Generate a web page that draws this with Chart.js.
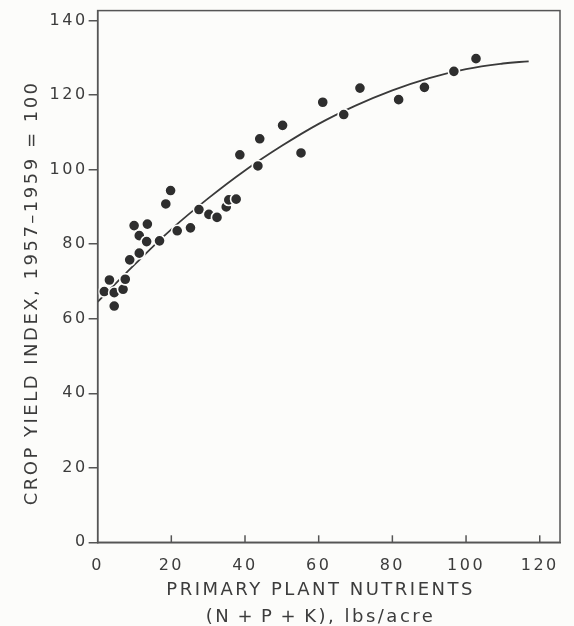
<!DOCTYPE html>
<html>
<head>
<meta charset="utf-8">
<script src="https://cdn.jsdelivr.net/npm/chart.js@4.4.0/dist/chart.umd.min.js"></script>
<style>
  html, body { margin: 0; padding: 0; background: #fcfcfa; }
  #wrap { width: 574px; height: 626px; position: relative; }
</style>
</head>
<body>
<div id="wrap"><canvas id="yieldChart"></canvas></div>
<script>
// observed points
const nutrients = [1.8, 4.5, 6.9, 4.5, 3.2, 7.5, 8.7, 11.3, 9.9, 13.5, 11.3, 13.3,
  16.8, 21.6, 25.2, 18.5, 19.8, 27.5, 30.2, 32.4, 34.9, 35.6, 37.6, 38.6,
  43.5, 44.0, 50.2, 55.2, 61.1, 66.8, 71.2, 81.7, 88.7, 96.7, 102.7];
const yieldIndex = [67.3, 67.0, 67.9, 63.4, 70.4, 70.6, 75.8, 77.6, 85.0, 85.4, 82.3, 80.7,
  80.9, 83.6, 84.4, 90.8, 94.4, 89.3, 88.0, 87.2, 90.0, 91.9, 92.1, 104.0,
  101.0, 108.3, 111.9, 104.5, 118.1, 114.8, 121.9, 118.8, 122.1, 126.4, 129.8];

// fitted curve
const curveNutrients = [0, 10, 20, 30, 40, 50, 60, 70, 80, 90, 100, 110, 117];
const curveYield = [64.5, 74.5, 84, 92.3, 99.8, 106.4, 112.3, 117.2, 121.3, 124.6, 127, 128.5, 129.1];

const xTicks = [0, 20, 40, 60, 80, 100, 120];
const yTicks = [0, 20, 40, 60, 80, 100, 120, 140];

const ink = "#3c3c3c";
const textFont = "'DejaVu Sans', sans-serif";
const nb = "\u00a0";

// spaced lettering like the original drawing
const spacing = {
  id: "spacing",
  beforeUpdate(chart) { chart.ctx.letterSpacing = "2.5px"; },
  beforeLayout(chart) { chart.ctx.letterSpacing = "2.5px"; },
  beforeDraw(chart) { chart.ctx.letterSpacing = "2.5px"; }
};

// box round the plot + inward x tick marks
const frame = {
  id: "frame",
  afterDraw(chart) {
    const { ctx, chartArea: a, scales } = chart;
    ctx.save();
    ctx.strokeStyle = "#555";
    ctx.lineWidth = 1.5;
    ctx.strokeRect(a.left, a.top, a.right - a.left, a.bottom - a.top);
    xTicks.forEach(function (v) {
      if (v === 0) return;
      const x = scales.x.getPixelForValue(v);
      ctx.beginPath();
      ctx.moveTo(x, a.bottom);
      ctx.lineTo(x, a.bottom - 7);
      ctx.stroke();
    });
    ctx.restore();
  }
};

const points = nutrients.map((x, i) => ({ x: x, y: yieldIndex[i] }));
const curve = curveNutrients.map((x, i) => ({ x: x, y: curveYield[i] }));

new Chart(document.getElementById("yieldChart"), {
  type: "scatter",
  data: {
    datasets: [
      {
        label: "Observed",
        data: points,
        order: 0,
        pointRadius: 5.6,
        pointBackgroundColor: "#2e2e2e",
        pointBorderColor: "#fcfcfa",
        pointBorderWidth: 1.6
      },
      {
        label: "Fitted",
        type: "line",
        data: curve,
        order: 1,
        showLine: true,
        pointRadius: 0,
        borderColor: "#3a3a3a",
        borderWidth: 1.8,
        tension: 0.4,
        fill: false
      }
    ]
  },
  options: {
    responsive: true,
    maintainAspectRatio: false,
    animation: false,
    layout: { padding: { left: 22, right: 14, top: 8, bottom: -5 } },
    plugins: {
      legend: { display: false },
      tooltip: { enabled: false }
    },
    scales: {
      x: {
        type: "linear",
        min: 0,
        max: 125.5,
        afterBuildTicks: (axis) => { axis.ticks = xTicks.map(v => ({ value: v })); },
        grid: { display: false },
        border: { color: "#555", width: 1.5 },
        ticks: { color: ink, font: { family: textFont, size: 16 }, padding: 6, maxRotation: 0 },
        title: {
          display: true,
          text: ["PRIMARY PLANT NUTRIENTS" + nb + nb, "(N\u2009+\u2009P\u2009+\u2009K), lbs/acre" + nb + nb],
          color: ink,
          font: { family: textFont, size: 18, lineHeight: 1.5 },
          padding: { top: -4.5, bottom: 0 }
        }
      },
      y: {
        type: "linear",
        min: 0,
        max: 142.7,
        afterBuildTicks: (axis) => { axis.ticks = yTicks.map(v => ({ value: v })); },
        grid: { drawOnChartArea: false, tickLength: 9, color: "#555", lineWidth: 1.5 },
        border: { color: "#555", width: 1.5 },
        ticks: { color: ink, font: { family: textFont, size: 16 }, padding: 1 },
        title: {
          display: true,
          text: "CROP YIELD INDEX, 1957\u20131959 = 100" + nb + nb + nb + nb,
          color: ink,
          font: { family: textFont, size: 18 },
          padding: { top: 0, bottom: 5 }
        }
      }
    }
  },
  plugins: [spacing, frame]
});
</script>
</body>
</html>
